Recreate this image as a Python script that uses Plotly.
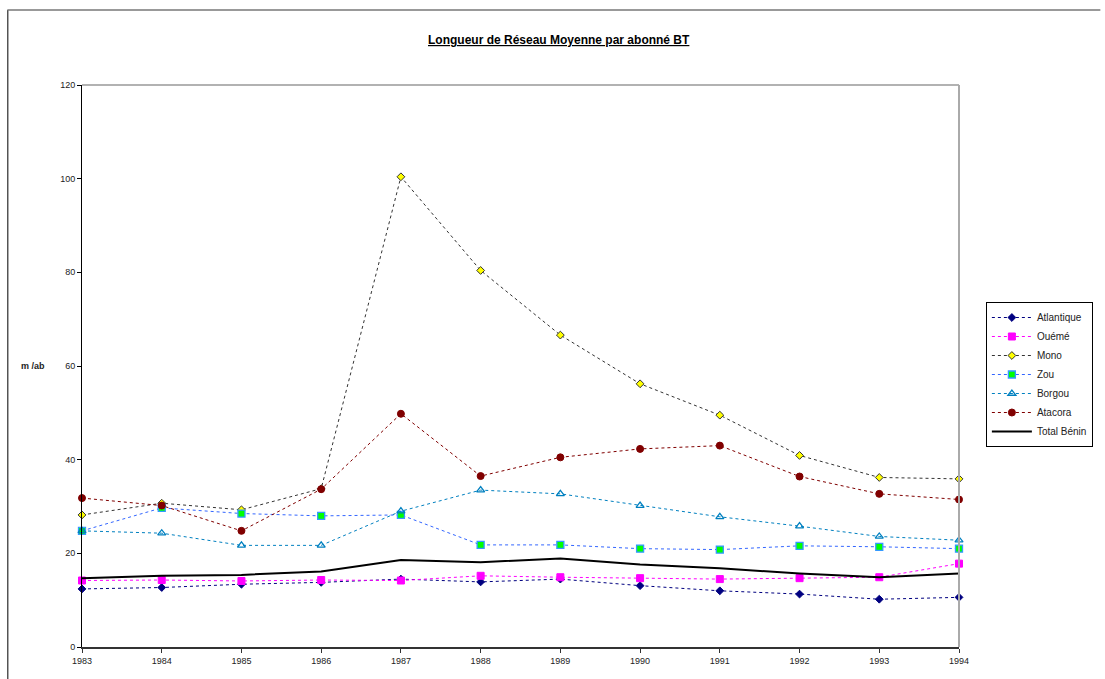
import plotly.graph_objects as go

years = [1983, 1984, 1985, 1986, 1987, 1988, 1989, 1990, 1991, 1992, 1993, 1994]

atlantique = [12.4, 12.7, 13.4, 13.8, 14.5, 13.9, 14.5, 13.1, 12.0, 11.3, 10.2, 10.6]
oueme = [14.2, 14.3, 14.1, 14.3, 14.2, 15.2, 14.9, 14.7, 14.5, 14.7, 14.9, 17.8]
mono = [28.2, 30.7, 29.3, 33.8, 100.4, 80.4, 66.6, 56.2, 49.5, 40.9, 36.2, 35.9]
zou = [24.8, 29.7, 28.5, 28.0, 28.2, 21.8, 21.8, 21.0, 20.8, 21.6, 21.4, 21.0]
borgou = [24.8, 24.3, 21.7, 21.7, 29.0, 33.5, 32.7, 30.2, 27.8, 25.8, 23.6, 22.8]
atacora = [31.8, 30.2, 24.8, 33.7, 49.8, 36.5, 40.5, 42.3, 43.0, 36.4, 32.7, 31.5]
total_benin = [14.7, 15.2, 15.4, 16.1, 18.6, 18.1, 18.9, 17.6, 16.8, 15.7, 14.9, 15.7]

y_ticks = [0, 20, 40, 60, 80, 100, 120]

series = [
    ("Atlantique", atlantique, dict(color="#000080", dash="3px,3px", width=1),
     dict(symbol="diamond", size=6, color="#000080", line=dict(color="#000080", width=1))),
    ("Ouémé", oueme, dict(color="#FF00FF", dash="3px,3px", width=1),
     dict(symbol="square", size=7, color="#FF00FF", line=dict(color="#FF00FF", width=1))),
    ("Mono", mono, dict(color="#333333", dash="3px,3px", width=1),
     dict(symbol="diamond", size=6, color="#FFFF00", line=dict(color="#333333", width=1))),
    ("Zou", zou, dict(color="#3366FF", dash="3px,3px", width=1),
     dict(symbol="square", size=7, color="#00FF00", line=dict(color="#3399FF", width=1.3))),
    ("Borgou", borgou, dict(color="#0080C0", dash="3px,3px", width=1),
     dict(symbol="triangle-up-open", size=7, color="#0080C0", line=dict(color="#0080C0", width=1.3))),
    ("Atacora", atacora, dict(color="#800000", dash="3px,3px", width=1),
     dict(symbol="circle", size=7, color="#800000", line=dict(color="#800000", width=1))),
]

fig = go.Figure()
for name, vals, line, marker in series:
    fig.add_trace(go.Scatter(x=years, y=vals, name=name, mode="lines+markers",
                             line=line, marker=marker, cliponaxis=False))
fig.add_trace(go.Scatter(x=years, y=total_benin, name="Total Bénin", mode="lines",
                         line=dict(color="black", width=2), cliponaxis=False))

W, H = 1105, 679
L, R, T, B = 82, 963, 85, 647


def px(x):
    return (x - L) / (R - L)


def py(y):
    return (B - y) / (B - T)


fig.update_layout(
    width=W, height=H,
    margin=dict(l=L, r=W - R, t=T, b=H - B),
    paper_bgcolor="white", plot_bgcolor="white",
    font=dict(family="Arial, Liberation Sans, sans-serif", size=9, color="#222222"),
    showlegend=True,
    legend=dict(x=px(990), y=py(302), xanchor="left", yanchor="top",
                bordercolor="black", borderwidth=1, bgcolor="white",
                font=dict(size=10, color="#222222"), itemwidth=40,
                tracegroupgap=0),
    xaxis=dict(range=[1983, 1994], tickmode="array", tickvals=years,
               ticktext=[str(y) for y in years], showgrid=False, zeroline=False,
               showline=True, linecolor="#333333", linewidth=1.5,
               ticks="outside", ticklen=4, tickcolor="#333333"),
    yaxis=dict(range=[0, 120], tickmode="array", tickvals=y_ticks,
               showgrid=False, zeroline=False, showline=True, linecolor="black",
               linewidth=1, ticks="outside", ticklen=4, tickcolor="black"),
    annotations=[
        dict(text="<b>Longueur de Réseau Moyenne par abonné BT</b>",
             xref="paper", yref="paper", x=px(561), y=py(40), showarrow=False,
             xanchor="center", yanchor="middle",
             font=dict(size=12, color="black", lineposition="under")),
        dict(text="<b>m /ab</b>", xref="paper", yref="paper", x=px(33), y=py(366),
             showarrow=False, xanchor="center", yanchor="middle",
             font=dict(size=9, color="#222222")),
    ],
    shapes=[
        dict(type="line", xref="paper", yref="paper", x0=0, x1=1, y0=1, y1=1,
             line=dict(color="#999999", width=1.5)),
        dict(type="line", xref="paper", yref="paper", x0=1, x1=1, y0=0, y1=1,
             line=dict(color="#AAAAAA", width=2)),
        dict(type="line", xref="paper", yref="paper", x0=px(7.5), x1=px(7.5),
             y0=py(10), y1=py(679), line=dict(color="black", width=1)),
        dict(type="line", xref="paper", yref="paper", x0=px(7), x1=px(1105),
             y0=py(10), y1=py(10), line=dict(color="#777777", width=1.5)),
    ],
)

fig.write_html("out.html", config={"displayModeBar": False},
               post_script="document.body.style.margin='0';document.body.style.overflow='hidden';")
